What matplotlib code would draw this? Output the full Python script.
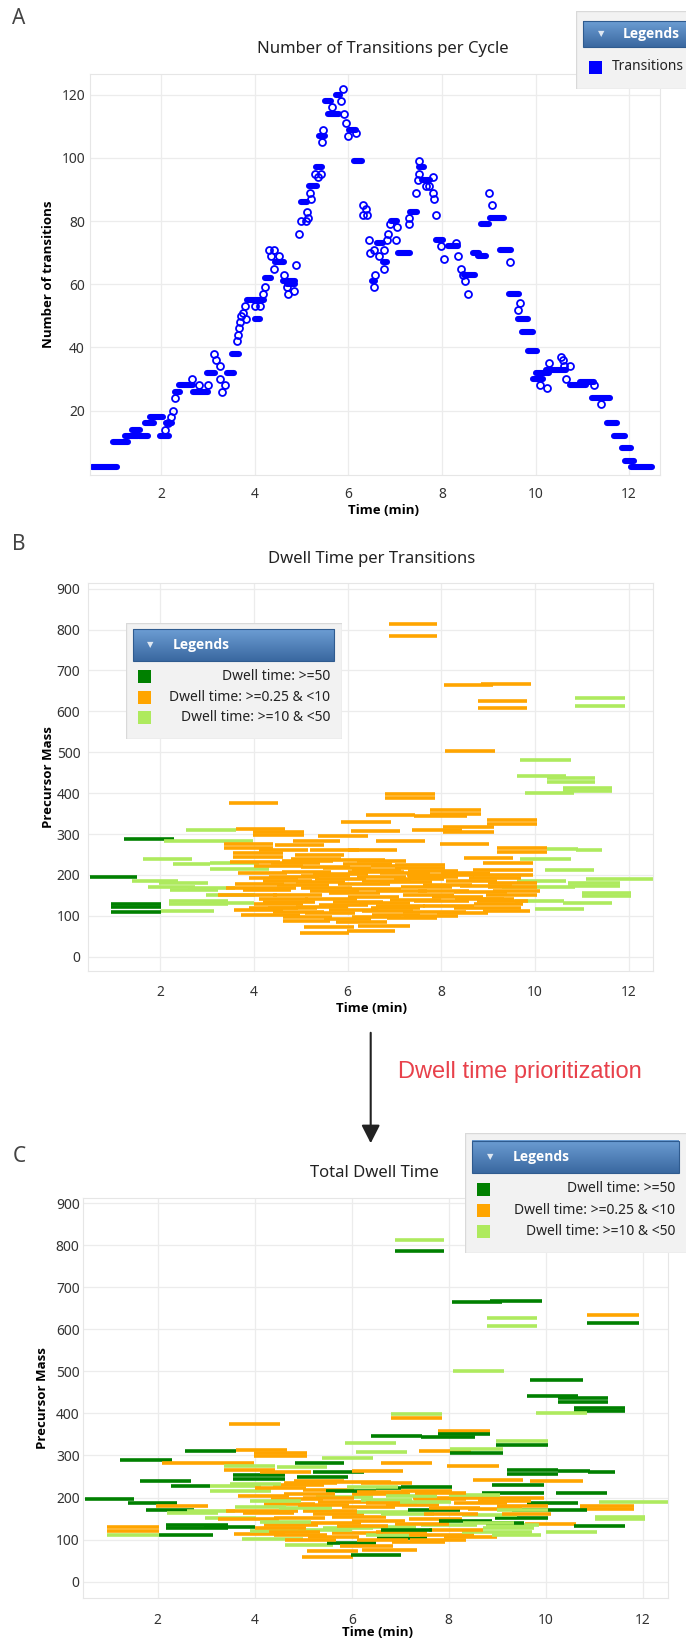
"""Recreate the three-panel dwell time figure: transitions per cycle, dwell time per transition, total dwell time."""

import matplotlib

matplotlib.use("Agg")
import matplotlib.pyplot as plt
import numpy as np
from matplotlib.collections import LineCollection
from matplotlib.colors import LinearSegmentedColormap
from matplotlib.patches import FancyArrowPatch, Rectangle

FIG_W, FIG_H = 686, 1639

# --- panel A: transitions per cycle -------------------------------------
# runs of consecutive cycles that share the same count (drawn as solid bars)
run_start = [0.52, 0.97, 1.23, 1.38, 1.52, 1.66, 1.76, 1.98, 2.10, 2.30,
             2.39, 2.69, 2.98, 3.41, 3.51, 3.84, 4.01, 4.21, 4.44, 4.61,
             4.70, 4.98, 5.16, 5.30, 5.37, 5.56, 5.51, 5.74, 6.01, 6.12,
             6.51, 6.62, 6.74, 6.92, 7.06, 7.31, 7.51, 7.58, 7.88, 8.13,
             8.48, 8.66, 8.77, 8.84, 9.03, 9.24, 9.44, 9.63, 9.72, 9.83,
             9.94, 10.00, 10.22, 10.73, 10.94, 11.21, 11.53, 11.67, 11.84, 11.92,
             12.03]
run_end = [1.05, 1.30, 1.50, 1.55, 1.72, 1.84, 2.05, 2.16, 2.23, 2.41,
           2.69, 3.01, 3.16, 3.55, 3.66, 4.19, 4.11, 4.35, 4.62, 4.87,
           4.85, 5.12, 5.34, 5.44, 5.51, 5.80, 5.62, 5.82, 6.16, 6.30,
           6.57, 6.74, 6.82, 7.03, 7.31, 7.47, 7.61, 7.75, 8.02, 8.34,
           8.70, 8.80, 8.94, 9.01, 9.33, 9.48, 9.64, 9.84, 9.95, 10.04,
           10.15, 10.29, 10.65, 11.07, 11.25, 11.60, 11.74, 11.92, 12.03, 12.10,
           12.49]
run_count = [2, 10, 12, 14, 12, 16, 18, 12, 16, 26,
             28, 26, 32, 32, 38, 55, 49, 62, 67, 61,
             60, 86, 91, 97, 107, 114, 118, 120, 109, 99,
             61, 73, 67, 80, 70, 83, 97, 93, 74, 72,
             63, 70, 69, 79, 81, 71, 57, 49, 45, 39,
             30, 32, 33, 28, 29, 24, 16, 12, 8, 4,
             2]
# single cycles (open circles)
cycle_time = [2.09, 2.14, 2.21, 2.25, 2.29, 2.66, 2.80, 3.00, 3.12, 3.18,
              3.25, 3.25, 3.30, 3.37, 3.62, 3.64, 3.66, 3.68, 3.71, 3.75,
              3.80, 3.82, 4.01, 4.12, 4.17, 4.21, 4.30, 4.41, 4.34, 4.41,
              4.51, 4.62, 4.69, 4.71, 4.84, 4.89, 4.94, 4.98, 5.09, 5.12,
              5.14, 5.18, 5.21, 5.28, 5.36, 5.41, 5.43, 5.46, 5.66, 5.85,
              5.88, 5.91, 5.96, 5.99, 6.16, 6.31, 6.37, 6.31, 6.39, 6.44,
              6.47, 6.54, 6.57, 6.55, 6.66, 6.76, 6.76, 6.84, 6.88, 6.82,
              7.04, 7.01, 7.30, 7.30, 7.45, 7.50, 7.52, 7.49, 7.66, 7.73,
              7.81, 7.81, 7.83, 7.87, 7.98, 8.04, 8.31, 8.35, 8.40, 8.45,
              8.50, 8.55, 9.01, 9.06, 9.45, 9.67, 9.62, 10.09, 10.25, 10.28,
              10.54, 10.59, 10.61, 10.74, 10.66, 11.25, 11.39]
cycle_count = [14, 16, 18, 20, 24, 30, 28, 28, 38, 36,
               34, 30, 26, 28, 42, 44, 46, 48, 50, 51,
               53, 49, 53, 53, 57, 59, 71, 71, 69, 65,
               69, 63, 59, 57, 58, 66, 76, 80, 80, 83,
               81, 89, 87, 95, 94, 95, 105, 109, 116, 118,
               122, 114, 111, 107, 108, 85, 84, 82, 82, 74,
               70, 59, 63, 71, 69, 71, 65, 76, 79, 74,
               78, 74, 79, 81, 89, 99, 95, 93, 91, 91,
               94, 89, 87, 82, 72, 68, 73, 69, 65, 63,
               61, 57, 89, 85, 67, 54, 52, 28, 27, 35,
               37, 36, 34, 34, 30, 28, 22]

# --- panels B and C: acquisition windows per transition -------------------
seg_start = [6.89, 6.89, 8.06, 8.85, 8.78, 8.78, 10.86, 10.86, 8.09, 9.68,
             9.62, 10.25, 10.25, 10.59, 10.59, 9.79, 6.81, 6.81, 3.47, 7.77,
             7.77, 7.42, 6.39, 8.97, 8.97, 5.86, 2.56, 3.61, 3.99, 3.99,
             6.08, 7.38, 8.03, 8.03, 1.22, 2.08, 4.83, 5.38, 6.60, 7.97,
             3.36, 3.36, 4.45, 9.20, 9.20, 10.25, 10.88, 3.55, 3.55, 4.87,
             1.64, 8.49, 9.68, 2.27, 3.07, 4.37, 8.89, 7.02, 7.02, 3.07,
             5.00, 10.21, 3.66, 0.50, 8.68, 8.68, 1.39, 11.09, 9.62, 10.71,
             10.71, 1.97, 1.75, 2.20, 2.60, 9.30, 2.98, 11.01, 11.01, 9.58,
             10.59, 2.18, 2.18, 0.95, 0.95, 0.95, 2.02, 10.00, 4.98, 5.98,
             5.08, 6.22, 4.62, 5.49, 5.76, 6.84, 3.73, 4.62, 6.52, 7.20,
             3.57, 4.40, 5.60, 6.30, 7.18, 8.28, 4.90, 7.60, 8.70, 5.40,
             6.25, 2.96, 4.20, 7.42, 8.77, 8.77, 5.10, 6.00, 3.24, 4.40,
             5.60, 7.18, 8.95, 8.28, 6.60, 3.76, 3.40, 5.00, 7.15, 8.40,
             4.50, 5.80, 6.70, 9.00, 8.10, 4.20, 5.30, 7.29, 6.20, 4.33,
             5.26, 7.27, 6.00, 5.47, 6.50, 4.60, 5.70,
             3.90, 6.50, 7.90, 8.90, 4.10, 6.90, 7.80, 9.10, 5.20, 6.10,
             7.60, 3.60, 4.90, 6.30, 8.60, 3.90, 5.00, 6.70, 8.00, 4.60,
             6.10, 7.30, 4.00, 5.90, 4.80, 6.20, 5.20, 4.10, 6.00, 3.50,
             5.10, 4.00, 6.60, 7.50, 5.70, 7.00, 8.30, 9.00, 6.10, 4.30]
seg_end = [7.91, 7.91, 9.10, 9.92, 9.82, 9.82, 11.93, 11.93, 9.14, 10.76,
           10.67, 11.29, 11.29, 11.64, 11.64, 10.84, 7.86, 7.86, 4.52, 8.85,
           8.85, 8.55, 7.44, 10.04, 10.04, 6.92, 3.61, 4.66, 5.08, 5.08,
           7.13, 8.45, 9.12, 9.12, 2.29, 3.99, 5.84, 6.43, 7.65, 9.03,
           4.41, 4.41, 5.50, 10.25, 10.25, 10.92, 11.43, 4.62, 4.62, 5.92,
           2.69, 9.54, 10.76, 3.07, 4.12, 5.42, 9.96, 8.07, 8.07, 4.33,
           6.05, 11.26, 4.71, 1.51, 9.96, 9.96, 2.39, 12.52, 10.67, 11.81,
           11.81, 3.03, 2.74, 3.24, 3.60, 10.85, 4.03, 12.04, 12.04, 10.63,
           11.64, 3.45, 3.45, 2.02, 2.02, 2.02, 3.15, 11.05, 6.03, 7.02,
           6.13, 7.34, 5.62, 6.50, 6.85, 7.92, 4.99, 5.67, 7.55, 8.35,
           4.62, 5.50, 6.65, 7.40, 8.53, 9.71, 6.00, 8.70, 9.75, 6.43,
           7.33, 4.00, 5.30, 8.59, 9.86, 9.56, 6.20, 7.10, 4.50, 5.45,
           6.70, 8.28, 10.05, 9.40, 7.70, 4.80, 4.90, 6.10, 8.23, 9.50,
           5.60, 6.90, 7.80, 10.04, 9.20, 5.25, 6.40, 8.35, 7.25, 5.40,
           6.43, 8.70, 7.20, 6.50, 7.02, 5.70, 6.80,
           4.95, 7.55, 9.00, 9.90, 5.15, 8.00, 8.90, 10.10, 6.25, 7.15,
           8.65, 4.65, 5.95, 7.35, 9.70, 4.95, 6.05, 7.75, 9.05, 5.65,
           7.15, 8.35, 5.05, 6.95, 5.85, 7.25, 6.25, 5.15, 7.05, 4.55,
           6.15, 5.05, 7.65, 8.60, 6.75, 8.05, 9.35, 10.05, 7.15, 5.35]
seg_mass = [813, 785, 664, 667, 626, 608, 633, 614, 502, 480,
            441, 436, 428, 412, 405, 400, 398, 388, 375, 358,
            350, 343, 347, 334, 325, 329, 310, 312, 305, 298,
            308, 311, 316, 305, 289, 283, 282, 294, 283, 276,
            275, 266, 273, 265, 257, 264, 260, 253, 245, 249,
            239, 242, 239, 227, 228, 229, 229, 224, 216, 215,
            219, 211, 204, 196, 212, 200, 186, 190, 186, 181,
            174, 181, 170, 163, 168, 171, 151, 155, 148, 136,
            132, 135, 128, 129, 121, 110, 112, 117, 58, 63,
            72, 76, 87, 91, 85, 94, 101, 98, 103, 100,
            114, 110, 115, 112, 110, 118, 122, 124, 128, 127,
            131, 131, 134, 135, 135, 140, 140, 145, 150, 152,
            155, 150, 152, 158, 160, 163, 168, 168, 170, 172,
            176, 178, 182, 180, 186, 185, 190, 196, 195, 196,
            202, 200, 208, 216, 222, 234, 237,
            120, 118, 106, 112, 142, 138, 145, 160, 160, 165,
            175, 178, 182, 186, 192, 192, 198, 204, 205, 208,
            213, 210, 222, 226, 240, 235, 260, 260, 262, 232,
            106, 128, 124, 160, 133, 190, 140, 170, 98, 118]
# dwell class per transition: g = >=50, o = >=0.25 & <10, l = >=10 & <50
dwell_before = list("oooooollol" "lllllloooo" "oooooolooo" "oooogloooo" "ooooollooo"
                    "lolllooool" "ologoollll" "llllllllll" "lllggglloo" "oooooooooo"
                    "oooooooooo" "oloooooooo" "oooooooooo" "oooooooooo" "ooooooo"
                    "oooooooooo" "oooooooooo" "oooooooooo" "oooooooooo")
dwell_after = list("lggglloglg" "gggggllooo" "ggglglgooo" "lolggogloo" "lolggggggg"
                   "googloggol" "ogoggoglgo" "oogllglllo" "gggoolglog" "oolgoologo"
                   "ooololloll" "lgollgoooo" "oogllooogo" "looooooolo" "looggoo"
                   "loollogool" "olooolollo" "oooloogool" "oogoollloo")

dwell_codes = ["g", "o", "l"]
dwell_labels = ["Dwell time: >=50", "Dwell time: >=0.25 & <10", "Dwell time: >=10 & <50"]
DWELL_COLORS = {"g": "#008000", "o": "#ffa500", "l": "#aeea5e"}
TIME_TICKS = [2, 4, 6, 8, 10, 12]
MASS_TICKS = [0, 100, 200, 300, 400, 500, 600, 700, 800, 900]
COUNT_TICKS = [20, 40, 60, 80, 100, 120]

plt.rcParams["font.family"] = ["Noto Sans", "DejaVu Sans"]
BOLD_FAMILY = ["Open Sans", "DejaVu Sans"]
HEADER_CMAP = LinearSegmentedColormap.from_list("legend_header", ["#3a68a0", "#6c9dd3"])


def px_axes(fig, left, top, right, bottom):
    """Axes placed with pixel edges measured from the top-left corner."""
    return fig.add_axes([left / FIG_W, 1 - bottom / FIG_H, (right - left) / FIG_W, (bottom - top) / FIG_H])


def px_text(fig, x, y, s, **kwargs):
    return fig.text(x / FIG_W, 1 - y / FIG_H, s, **kwargs)


def style_axes(ax, xlim, ylim, yticks, xpad, ypad):
    ax.set_xlim(*xlim)
    ax.set_ylim(*ylim)
    ax.set_xticks(TIME_TICKS)
    ax.set_yticks(yticks)
    ax.tick_params(length=0, labelsize=10, labelcolor="#333333")
    ax.tick_params(axis="x", pad=xpad)
    ax.tick_params(axis="y", pad=ypad)
    ax.grid(True, color="#ececec", linewidth=0.9)
    ax.set_axisbelow(True)
    for spine in ax.spines.values():
        spine.set_color("#e6e6e6")
        spine.set_linewidth(0.8)


def draw_segments(ax, dwell):
    lines = [[(s, m), (e, m)] for s, e, m in zip(seg_start, seg_end, seg_mass)]
    colors = [DWELL_COLORS[d] for d in dwell]
    ax.add_collection(LineCollection(lines, colors=colors, linewidths=2.6, capstyle="butt"))


def draw_legend(fig, box, header, tri_x, title_x, items, square_x, text_x, text_ha):
    left, top, right, bottom = box
    ax = px_axes(fig, left, top, right, bottom)
    ax.axis("off")
    ax.add_patch(Rectangle((left, top), right - left, bottom - top,
                           facecolor="#f2f2f2", edgecolor="#d9d9d9", linewidth=1.0, zorder=0))
    hl, ht, hr, hb = header
    ax.imshow(np.linspace(0, 1, 64).reshape(-1, 1), cmap=HEADER_CMAP,
              extent=(hl, hr, hb, ht), origin="lower", aspect="auto", zorder=2)
    ax.add_patch(Rectangle((hl, ht), hr - hl, hb - ht, fill=False, edgecolor="#2f5b8f",
                           linewidth=0.8, zorder=3))
    hc = (ht + hb) / 2
    ax.text(tri_x, hc, "\u25bc", color="#dfe8f2", fontsize=6, family=["DejaVu Sans"],
            ha="center", va="center", zorder=4)
    ax.text(title_x, hc, "Legends", color="white", fontsize=10, fontweight="bold", family=BOLD_FAMILY,
            ha="left", va="center", zorder=4)
    for color, label, yc in items:
        ax.add_patch(Rectangle((square_x, yc - 6.5), 13, 13, facecolor=color, edgecolor="none", zorder=3))
        ax.text(text_x, yc, label, ha=text_ha, va="center", fontsize=10, color="#222222", zorder=4)
    ax.set_xlim(left, right)
    ax.set_ylim(bottom, top)


fig = plt.figure(figsize=(FIG_W / 100, FIG_H / 100), dpi=100)

# panel A
ax_a = px_axes(fig, 90, 74, 660, 475)
runs = [[(s, c), (e, c)] for s, e, c in zip(run_start, run_end, run_count)]
ax_a.add_collection(LineCollection(runs, colors="#0000ff", linewidths=4.4, capstyle="round"))
ax_a.plot(cycle_time, cycle_count, linestyle="none", marker="o", markersize=5,
          markerfacecolor="none", markeredgecolor="#0000ff", markeredgewidth=1.3)
style_axes(ax_a, (0.48, 12.66), (-0.4, 126.6), COUNT_TICKS, xpad=9, ypad=3.6)

# panel B
ax_b = px_axes(fig, 88, 583, 653, 971)
draw_segments(ax_b, dwell_before)
style_axes(ax_b, (0.46, 12.52), (-35, 914), MASS_TICKS, xpad=10, ypad=5.5)

# panel C
ax_c = px_axes(fig, 83, 1198, 668, 1598)
draw_segments(ax_c, dwell_after)
style_axes(ax_c, (0.46, 12.52), (-38.7, 912), MASS_TICKS, xpad=10.5, ypad=2.5)

# titles, axis labels, panel letters
for x, y, s in [(383, 49, "Number of Transitions per Cycle"),
                (372, 559, "Dwell Time per Transitions"),
                (374, 1173, "Total Dwell Time")]:
    px_text(fig, x, y, s, fontsize=12, color="#222222", ha="center", va="center")
for x, y, s in [(49, 274, "Number of transitions"), (48, 777, "Precursor Mass"), (42, 1398, "Precursor Mass")]:
    px_text(fig, x, y, s, fontsize=9.5, fontweight="bold", family=BOLD_FAMILY,
            rotation=90, ha="center", va="center")
for x, y in [(383, 510), (371, 1009), (377, 1633)]:
    px_text(fig, x, y, "Time (min)", fontsize=9.5, fontweight="bold", family=BOLD_FAMILY,
            ha="center", va="center")
for y, s in [(19, "A"), (544, "B"), (1157, "C")]:
    px_text(fig, 19, y, s, fontsize=15, color="#444444", ha="center", va="center")

# legends
draw_legend(fig, (576, 10.5, 700, 89), (583, 21, 700, 47), 601, 623,
            [("#0000ff", "Transitions", 67)], 589, 612, "left")
dwell_items_b = [(DWELL_COLORS[c], lab, y) for c, lab, y in zip(dwell_codes, dwell_labels, [676.7, 697.7, 717.3])]
draw_legend(fig, (126, 622.7, 342, 739), (133, 629, 334, 661), 150.7, 172.7,
            dwell_items_b, 138, 330, "right")
dwell_items_c = [(DWELL_COLORS[c], lab, y) for c, lab, y in zip(dwell_codes, dwell_labels, [1189, 1210, 1231.7])]
draw_legend(fig, (465, 1132.7, 700, 1253), (472, 1140.7, 679, 1173), 490, 512.7,
            dwell_items_c, 477, 675, "right")

# arrow and annotation between B and C
arrow = FancyArrowPatch((370.7 / FIG_W, 1 - 1030 / FIG_H), (370.7 / FIG_W, 1 - 1146 / FIG_H),
                        transform=fig.transFigure, arrowstyle="-|>,head_width=0.28,head_length=0.55",
                        mutation_scale=20, linewidth=1.5, color="#222222")
fig.add_artist(arrow)
px_text(fig, 398, 1072, "Dwell time prioritization", fontsize=17, family=["Liberation Sans"],
        color="#e8414b", ha="left", va="center")

fig.savefig("out.png", dpi=100)
